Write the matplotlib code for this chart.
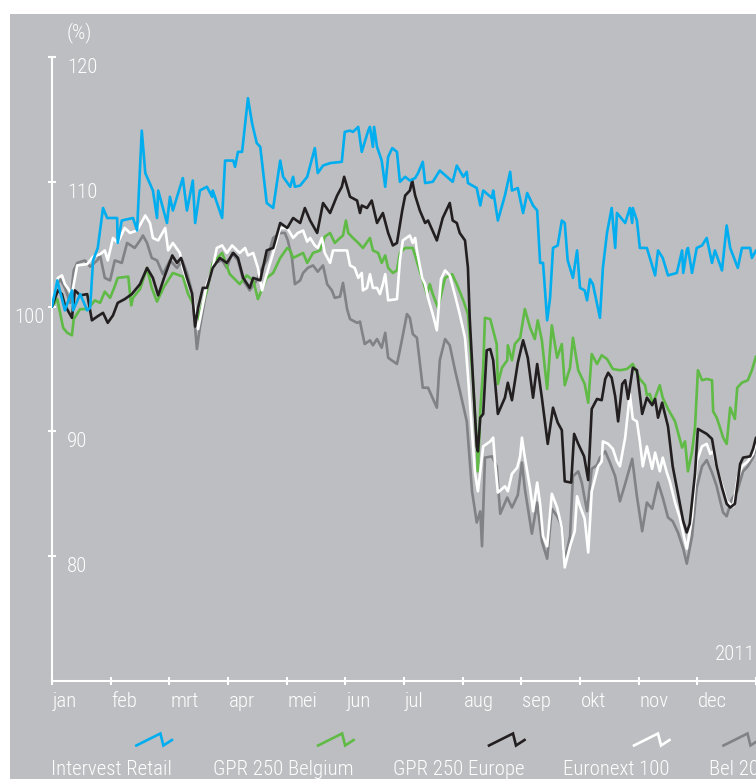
import matplotlib
matplotlib.use("Agg")
import matplotlib.pyplot as plt
from matplotlib import font_manager, transforms
from matplotlib.font_manager import FontProperties
from matplotlib.lines import Line2D
from matplotlib.patches import Rectangle

# ---------------------------------------------------------------- data
months = ["jan", "feb", "mrt", "apr", "mei", "jun", "jul", "aug", "sep", "okt", "nov", "dec"]
y_ticks = [80, 90, 100, 110, 120]
series_names = ["Intervest Retail", "GPR 250 Belgium", "GPR 250 Europe", "Euronext 100", "Bel 20"]
unit_label = "(%)"
year_label = "2011"

# (month position, index value) pairs, 1 January = 100
intervest_retail = [
    (0.00, 100.0), (0.09, 102.1), (0.22, 99.7), (0.34, 101.3), (0.36, 99.7), (0.48, 101.0), (0.60, 99.7),
    (0.65, 99.9), (0.70, 103.7), (0.78, 104.7), (0.87, 107.9), (0.94, 107.1), (1.11, 107.1), (1.12, 105.1),
    (1.19, 106.9), (1.38, 107.1), (1.45, 106.1), (1.53, 114.1), (1.59, 110.7), (1.72, 109.3), (1.79, 107.1),
    (1.81, 109.3), (1.89, 107.9), (1.96, 106.7), (2.01, 108.8), (2.06, 107.7), (2.23, 110.3), (2.30, 107.7),
    (2.40, 110.1), (2.44, 106.7), (2.52, 109.3), (2.64, 109.6), (2.73, 108.8), (2.74, 109.3), (2.90, 107.1),
    (2.95, 111.7), (3.09, 111.7), (3.12, 111.2), (3.17, 112.4), (3.24, 112.4), (3.34, 116.7), (3.41, 114.7),
    (3.49, 113.1), (3.55, 112.8), (3.66, 108.3), (3.77, 107.9), (3.89, 111.7), (3.94, 110.4), (4.06, 109.6),
    (4.11, 110.4), (4.14, 109.6), (4.23, 109.7), (4.35, 110.4), (4.48, 112.7), (4.53, 110.7), (4.62, 111.3),
    (4.74, 111.5), (4.94, 111.6), (4.99, 114.0), (5.08, 114.1), (5.13, 114.0), (5.22, 114.4), (5.28, 112.4),
    (5.39, 114.1), (5.42, 114.4), (5.47, 112.8), (5.49, 114.4), (5.54, 112.8), (5.62, 111.7), (5.68, 109.6),
    (5.73, 112.0), (5.80, 112.7), (5.88, 112.4), (5.93, 110.0), (6.02, 110.4), (6.10, 110.1), (6.19, 110.3),
    (6.24, 110.7), (6.32, 111.6), (6.36, 109.9), (6.49, 110.0), (6.61, 110.9), (6.83, 110.0), (6.90, 111.3),
    (7.01, 110.4), (7.07, 110.8), (7.09, 109.9), (7.24, 109.5), (7.30, 108.1), (7.35, 109.3), (7.50, 108.7),
    (7.52, 109.3), (7.60, 106.9), (7.72, 108.9), (7.81, 110.8), (7.84, 109.3), (7.94, 109.5), (8.03, 107.5),
    (8.10, 109.1), (8.20, 108.1), (8.27, 107.7), (8.32, 103.5), (8.37, 103.5), (8.44, 98.9), (8.49, 100.7),
    (8.54, 104.7), (8.62, 104.9), (8.69, 106.9), (8.74, 106.7), (8.79, 103.7), (8.88, 102.3), (8.95, 104.5),
    (9.00, 101.5), (9.08, 101.3), (9.12, 100.5), (9.17, 102.2), (9.22, 101.8), (9.34, 99.1), (9.39, 103.1),
    (9.46, 105.9), (9.54, 107.9), (9.60, 104.7), (9.63, 107.5), (9.77, 106.7), (9.85, 107.9), (9.89, 106.7),
    (9.90, 107.9), (9.97, 106.9), (10.02, 104.7), (10.14, 104.7), (10.28, 102.5), (10.33, 104.5), (10.41, 103.9),
    (10.50, 102.5), (10.65, 102.7), (10.74, 104.5), (10.76, 102.7), (10.82, 104.5), (10.84, 104.7), (10.91, 102.7),
    (10.99, 104.7), (11.08, 104.9), (11.16, 105.5), (11.25, 103.5), (11.30, 104.5), (11.42, 102.9), (11.50, 106.5),
    (11.56, 104.7), (11.69, 103.1), (11.76, 104.7), (11.90, 104.7), (11.93, 103.9), (12.00, 104.5),
]

gpr_belgium = [
    (0.00, 100.0), (0.09, 100.6), (0.19, 98.3), (0.26, 97.9), (0.34, 97.7), (0.37, 99.0), (0.48, 99.8),
    (0.61, 99.8), (0.73, 100.5), (0.82, 100.3), (0.90, 101.2), (0.99, 100.7), (1.06, 101.5), (1.12, 102.3),
    (1.30, 102.4), (1.35, 100.1), (1.38, 100.7), (1.50, 101.4), (1.62, 103.1), (1.70, 101.5), (1.79, 100.4),
    (1.91, 101.6), (2.06, 102.7), (2.23, 102.4), (2.32, 101.0), (2.40, 100.3), (2.47, 98.7), (2.56, 100.1),
    (2.64, 101.3), (2.74, 103.5), (2.90, 104.3), (3.03, 102.6), (3.20, 101.8), (3.32, 102.5), (3.43, 102.1),
    (3.51, 100.6), (3.66, 102.3), (3.77, 102.7), (3.89, 103.9), (4.01, 104.7), (4.06, 104.5), (4.11, 103.9),
    (4.28, 104.3), (4.35, 103.5), (4.45, 104.3), (4.57, 104.5), (4.65, 105.6), (4.74, 105.9), (4.82, 105.1),
    (4.91, 105.5), (4.96, 105.7), (5.01, 106.9), (5.05, 105.9), (5.13, 105.5), (5.22, 105.1), (5.30, 104.7),
    (5.42, 105.5), (5.47, 104.5), (5.56, 104.3), (5.62, 103.5), (5.68, 104.1), (5.73, 103.1), (5.81, 102.7),
    (5.88, 102.9), (5.93, 104.3), (6.02, 104.7), (6.15, 104.7), (6.24, 103.3), (6.32, 102.1), (6.39, 101.0),
    (6.44, 101.8), (6.49, 101.0), (6.58, 99.9), (6.70, 102.3), (6.82, 102.6), (6.90, 101.8), (7.01, 100.5),
    (7.09, 99.4), (7.18, 93.8), (7.24, 89.2), (7.26, 86.8), (7.30, 91.6), (7.35, 95.1), (7.38, 99.1),
    (7.47, 99.0), (7.52, 98.1), (7.58, 97.0), (7.60, 93.8), (7.67, 95.1), (7.76, 95.7), (7.77, 96.9),
    (7.84, 95.7), (7.89, 97.0), (7.98, 97.5), (8.06, 99.8), (8.15, 98.3), (8.23, 97.4), (8.28, 98.9),
    (8.35, 97.3), (8.44, 93.4), (8.52, 98.5), (8.61, 95.9), (8.69, 97.0), (8.74, 93.7), (8.83, 95.1),
    (8.88, 97.5), (8.97, 94.9), (9.08, 93.8), (9.14, 92.3), (9.20, 96.2), (9.29, 95.4), (9.37, 96.1),
    (9.46, 95.8), (9.56, 95.0), (9.68, 94.9), (9.80, 95.0), (9.90, 95.4), (9.97, 94.7), (10.02, 94.2),
    (10.11, 93.7), (10.14, 92.9), (10.19, 93.0), (10.24, 92.2), (10.36, 93.7), (10.41, 92.7), (10.50, 91.8),
    (10.62, 90.8), (10.74, 88.7), (10.79, 89.2), (10.84, 86.8), (10.91, 88.4), (10.96, 90.3), (11.01, 94.9),
    (11.08, 94.1), (11.16, 94.2), (11.25, 94.1), (11.27, 91.6), (11.33, 91.1), (11.38, 90.4), (11.44, 89.5),
    (11.50, 89.0), (11.56, 91.9), (11.64, 91.0), (11.68, 93.5), (11.76, 93.9), (11.86, 94.1), (11.93, 94.9),
    (12.00, 96.0),
]

gpr_europe = [
    (0.00, 100.0), (0.10, 101.3), (0.17, 101.0), (0.22, 100.1), (0.34, 99.1), (0.39, 101.3), (0.48, 100.9),
    (0.60, 101.0), (0.68, 98.9), (0.77, 99.2), (0.87, 99.5), (0.95, 98.7), (1.04, 99.3), (1.12, 100.3),
    (1.24, 100.6), (1.36, 101.0), (1.50, 101.8), (1.62, 103.1), (1.72, 102.3), (1.81, 100.9), (1.91, 102.3),
    (2.05, 104.1), (2.13, 103.5), (2.20, 103.9), (2.30, 102.3), (2.39, 101.0), (2.44, 98.4), (2.49, 99.9),
    (2.57, 101.5), (2.64, 101.5), (2.74, 103.1), (2.86, 103.9), (2.98, 103.5), (3.09, 104.3), (3.17, 103.9),
    (3.26, 102.3), (3.37, 101.5), (3.43, 102.3), (3.55, 102.1), (3.66, 104.5), (3.77, 104.7), (3.89, 106.7),
    (4.01, 106.3), (4.11, 107.1), (4.23, 106.7), (4.31, 107.9), (4.40, 106.9), (4.52, 105.9), (4.62, 108.3),
    (4.74, 107.5), (4.86, 108.9), (4.94, 109.6), (4.98, 110.4), (5.03, 109.6), (5.08, 108.8), (5.20, 108.5),
    (5.25, 107.5), (5.28, 108.1), (5.37, 107.9), (5.45, 108.5), (5.54, 106.7), (5.64, 107.5), (5.73, 105.9),
    (5.81, 104.9), (5.88, 105.1), (5.97, 107.7), (6.02, 108.9), (6.10, 109.3), (6.14, 110.1), (6.19, 108.9),
    (6.27, 107.7), (6.36, 106.7), (6.41, 106.9), (6.56, 105.3), (6.66, 107.1), (6.78, 108.3), (6.83, 106.9),
    (6.90, 106.7), (6.95, 105.9), (7.04, 105.3), (7.09, 103.1), (7.12, 99.1), (7.18, 93.8), (7.24, 88.8),
    (7.26, 88.4), (7.30, 91.1), (7.35, 91.4), (7.41, 96.5), (7.47, 96.6), (7.52, 95.7), (7.60, 91.4),
    (7.72, 92.7), (7.77, 93.9), (7.84, 92.5), (7.94, 95.5), (8.03, 97.3), (8.11, 95.9), (8.20, 92.7),
    (8.27, 95.4), (8.35, 92.7), (8.45, 89.0), (8.54, 91.9), (8.62, 90.7), (8.69, 90.1), (8.74, 86.0),
    (8.85, 85.9), (8.90, 89.8), (8.97, 89.0), (9.07, 88.0), (9.14, 86.1), (9.20, 91.8), (9.29, 92.6),
    (9.37, 92.5), (9.43, 94.2), (9.48, 94.7), (9.54, 94.3), (9.60, 92.8), (9.65, 90.8), (9.72, 93.8),
    (9.77, 94.1), (9.82, 92.6), (9.90, 95.1), (9.97, 94.9), (10.06, 91.4), (10.14, 92.7), (10.23, 92.1),
    (10.28, 92.6), (10.33, 91.1), (10.40, 92.3), (10.50, 90.4), (10.58, 87.2), (10.67, 85.0), (10.76, 82.8),
    (10.82, 81.9), (10.87, 82.6), (10.96, 86.6), (11.01, 90.2), (11.16, 89.8), (11.25, 89.4), (11.33, 87.2),
    (11.42, 85.5), (11.50, 84.2), (11.56, 83.9), (11.64, 84.2), (11.73, 87.4), (11.78, 87.9), (11.90, 88.0),
    (11.95, 88.6), (12.00, 89.5),
]

euronext_100 = [
    (0.00, 100.0), (0.10, 102.3), (0.17, 102.5), (0.22, 101.8), (0.34, 101.0), (0.43, 103.3), (0.60, 103.4),
    (0.70, 104.0), (0.82, 104.2), (0.90, 104.5), (0.95, 103.7), (1.04, 105.5), (1.12, 105.1), (1.24, 106.3),
    (1.33, 105.9), (1.45, 106.1), (1.59, 107.3), (1.67, 106.7), (1.72, 105.5), (1.81, 105.3), (1.93, 106.3),
    (1.98, 104.5), (2.06, 105.1), (2.18, 104.3), (2.23, 103.1), (2.30, 102.1), (2.39, 101.0), (2.49, 98.2),
    (2.57, 100.1), (2.64, 101.8), (2.73, 102.9), (2.81, 104.7), (2.90, 104.9), (2.98, 104.3), (3.07, 104.9),
    (3.20, 104.3), (3.29, 104.7), (3.34, 104.1), (3.43, 104.3), (3.51, 103.1), (3.58, 101.3), (3.66, 102.6),
    (3.77, 104.3), (3.89, 106.3), (4.01, 106.3), (4.11, 105.5), (4.19, 105.9), (4.28, 106.1), (4.35, 105.2),
    (4.40, 105.5), (4.48, 104.9), (4.53, 104.7), (4.60, 105.5), (4.65, 104.3), (4.74, 103.5), (4.79, 104.5),
    (5.03, 104.5), (5.08, 103.3), (5.16, 103.1), (5.22, 102.3), (5.28, 102.7), (5.30, 101.3), (5.37, 101.5),
    (5.42, 102.6), (5.47, 101.5), (5.54, 101.5), (5.59, 101.0), (5.64, 101.8), (5.68, 102.6), (5.73, 100.5),
    (5.88, 100.6), (5.93, 103.7), (5.98, 105.3), (6.10, 105.7), (6.15, 105.1), (6.19, 105.5), (6.22, 104.5),
    (6.31, 102.3), (6.36, 101.8), (6.41, 100.7), (6.49, 99.4), (6.56, 98.1), (6.63, 102.2), (6.70, 102.9),
    (6.78, 102.5), (6.87, 100.9), (6.95, 99.4), (7.04, 97.5), (7.09, 94.5), (7.16, 90.0), (7.21, 86.7),
    (7.26, 85.2), (7.30, 86.8), (7.35, 88.8), (7.47, 89.2), (7.52, 89.5), (7.55, 87.6), (7.60, 85.1),
    (7.72, 85.6), (7.77, 85.2), (7.84, 86.6), (7.93, 87.1), (7.98, 88.0), (8.01, 89.5), (8.06, 87.9),
    (8.15, 85.4), (8.20, 83.6), (8.27, 85.9), (8.32, 84.2), (8.37, 81.6), (8.44, 80.8), (8.52, 85.0),
    (8.57, 84.4), (8.61, 83.9), (8.69, 82.3), (8.74, 79.1), (8.83, 80.8), (8.91, 82.0), (8.95, 84.8),
    (9.00, 84.0), (9.08, 83.0), (9.14, 80.3), (9.20, 85.2), (9.26, 86.3), (9.31, 87.2), (9.37, 87.6),
    (9.39, 89.2), (9.48, 89.0), (9.56, 88.6), (9.63, 87.6), (9.68, 87.2), (9.77, 89.5), (9.85, 93.0),
    (9.90, 91.0), (9.97, 90.8), (10.02, 89.2), (10.07, 87.2), (10.14, 88.8), (10.23, 87.0), (10.28, 88.3),
    (10.36, 86.8), (10.41, 87.9), (10.48, 86.7), (10.53, 86.0), (10.62, 84.3), (10.70, 83.1), (10.77, 81.6),
    (10.82, 80.6), (10.91, 83.1), (10.99, 87.6), (11.08, 88.8), (11.16, 89.0), (11.22, 88.2), (11.27, 88.4),
    (11.35, 86.8), (11.44, 85.4), (11.50, 84.4), (11.61, 84.0), (11.69, 86.3), (11.76, 87.2), (11.86, 87.6),
    (11.95, 88.2), (12.00, 89.1),
]

bel_20 = [
    (0.00, 100.0), (0.09, 101.8), (0.14, 102.2), (0.22, 101.5), (0.31, 100.3), (0.37, 102.9), (0.43, 103.5),
    (0.56, 103.7), (0.65, 103.2), (0.77, 103.7), (0.82, 104.1), (0.90, 102.3), (0.99, 102.1), (1.07, 103.7),
    (1.19, 103.5), (1.28, 105.1), (1.41, 104.7), (1.50, 105.3), (1.55, 105.7), (1.62, 105.1), (1.70, 103.9),
    (1.79, 103.7), (1.89, 102.6), (2.01, 103.7), (2.13, 103.1), (2.22, 103.7), (2.30, 102.7), (2.39, 101.1),
    (2.47, 96.6), (2.52, 98.3), (2.61, 100.7), (2.69, 102.3), (2.76, 103.5), (2.90, 103.7), (2.98, 103.1),
    (3.07, 104.3), (3.17, 103.7), (3.26, 102.1), (3.37, 101.3), (3.49, 102.1), (3.58, 103.1), (3.66, 103.7),
    (3.77, 105.5), (3.89, 105.9), (3.97, 105.9), (4.02, 105.3), (4.09, 103.9), (4.14, 101.8), (4.23, 102.1),
    (4.28, 102.7), (4.36, 103.1), (4.45, 103.3), (4.53, 102.8), (4.62, 103.3), (4.69, 101.8), (4.77, 101.3),
    (4.82, 100.7), (4.91, 100.8), (4.96, 101.9), (5.03, 99.8), (5.08, 99.0), (5.20, 98.7), (5.25, 98.8),
    (5.28, 98.1), (5.33, 97.0), (5.42, 97.3), (5.47, 96.9), (5.54, 97.4), (5.62, 96.7), (5.68, 97.9),
    (5.73, 95.9), (5.88, 95.4), (5.93, 96.5), (6.05, 99.4), (6.10, 99.1), (6.15, 97.8), (6.22, 97.5),
    (6.32, 93.5), (6.41, 93.5), (6.56, 91.9), (6.61, 95.7), (6.70, 97.4), (6.78, 96.9), (6.87, 94.9),
    (6.95, 93.3), (7.07, 90.8), (7.16, 85.2), (7.24, 82.7), (7.30, 83.6), (7.33, 80.8), (7.38, 87.9),
    (7.50, 88.0), (7.58, 87.2), (7.64, 83.4), (7.76, 84.7), (7.84, 83.9), (7.94, 84.9), (8.01, 87.5),
    (8.06, 85.4), (8.18, 81.8), (8.27, 84.3), (8.35, 81.2), (8.44, 79.8), (8.52, 83.8), (8.61, 83.2),
    (8.69, 82.4), (8.74, 79.6), (8.83, 81.6), (8.88, 86.4), (8.97, 86.8), (9.03, 85.9), (9.12, 83.6),
    (9.20, 87.0), (9.29, 87.3), (9.34, 87.9), (9.43, 88.4), (9.51, 87.5), (9.60, 86.4), (9.68, 84.4),
    (9.77, 85.8), (9.89, 87.8), (9.97, 84.8), (10.06, 82.0), (10.14, 84.3), (10.23, 83.8), (10.33, 85.9),
    (10.41, 84.7), (10.50, 83.1), (10.58, 82.8), (10.67, 81.9), (10.76, 80.6), (10.82, 79.4), (10.91, 81.6),
    (10.99, 85.5), (11.08, 87.2), (11.16, 87.7), (11.25, 86.7), (11.33, 85.6), (11.39, 84.4), (11.44, 83.5),
    (11.50, 83.2), (11.59, 84.6), (11.68, 85.2), (11.78, 86.8), (11.86, 87.2), (11.95, 87.9), (12.00, 88.7),
]

# ---------------------------------------------------------------- style
BG = "#bdbec1"
COLORS = {
    "Intervest Retail": "#00aeef",
    "GPR 250 Belgium": "#5fba46",
    "GPR 250 Europe": "#231f20",
    "Euronext 100": "#ffffff",
    "Bel 20": "#808285",
}
LW = 1.9
FS = 15


def pick_font():
    """Prefer a light condensed sans face; fall back to DejaVu Sans."""
    entries = font_manager.fontManager.ttflist

    def stretch_val(e):
        s = e.stretch
        if isinstance(s, str):
            return font_manager.stretch_dict.get(s, 500)
        return s

    def weight_val(e):
        w = e.weight
        if isinstance(w, str):
            return font_manager.weight_dict.get(w, 400)
        return w

    def good(cands):
        cands = [e for e in cands if e.style == "normal"]
        if not cands:
            return None
        cands.sort(key=lambda e: abs(weight_val(e) - 320))
        return cands[0]

    for fam in ["Roboto Condensed", "Open Sans Condensed", "Noto Sans Condensed",
                "Liberation Sans Narrow", "Arial Narrow"]:
        e = good([f for f in entries if f.name == fam])
        if e is not None:
            return FontProperties(fname=e.fname)
    e = good([f for f in entries if stretch_val(f) <= 400 and
              f.name in ("Roboto", "Open Sans", "Noto Sans", "DejaVu Sans", "Lato", "Inter")])
    if e is not None:
        return FontProperties(fname=e.fname)
    e = good([f for f in entries if "Condensed" in f.name or "Narrow" in f.name])
    if e is not None:
        return FontProperties(fname=e.fname)
    return FontProperties(family="DejaVu Sans")


FONT = pick_font()
FONT.set_size(FS)

W, H = 756, 779
fig = plt.figure(figsize=(W / 100, H / 100), dpi=100, facecolor="white")
fig.patches.append(Rectangle((10 / W, 0), 1 - 10 / W, (H - 14) / H,
                             transform=fig.transFigure, facecolor=BG,
                             edgecolor="none", zorder=-10))

ax = fig.add_axes([52 / W, (H - 681) / H, (W - 52) / W, (681 - 57) / H])
ax.set_facecolor("none")
ax.set_zorder(1)
ax.set_xlim(0, 12)
ax.set_ylim(70, 120)

for side in ("top", "right"):
    ax.spines[side].set_visible(False)
for side in ("left", "bottom"):
    ax.spines[side].set_color("white")
    ax.spines[side].set_linewidth(1.5)

ax.set_yticks(y_ticks)
ax.set_xticks(range(13))
ax.tick_params(axis="y", direction="inout", length=6, width=1.5, color="white", labelleft=False)
ax.tick_params(axis="x", direction="inout", length=5.5, width=1.5, color="white", labelbottom=False)

# ---------------------------------------------------------------- lines
series = {
    "Bel 20": bel_20,
    "GPR 250 Belgium": gpr_belgium,
    "Euronext 100": euronext_100,
    "GPR 250 Europe": gpr_europe,
    "Intervest Retail": intervest_retail,
}
for z, (name, pts) in enumerate(series.items()):
    xs = [p[0] for p in pts]
    ys = [p[1] for p in pts]
    ax.plot(xs, ys, color=COLORS[name], lw=LW, solid_joinstyle="round",
            solid_capstyle="round", zorder=3 + z)

# ---------------------------------------------------------------- labels
ytrans = ax.get_yaxis_transform()
for v in y_ticks:
    if v == 100:
        tr = transforms.offset_copy(ytrans, fig=fig, x=-7, y=-1, units="dots")
        ax.text(0, v, str(v), transform=tr, ha="right", va="top",
                color="white", fontproperties=FONT)
    else:
        tr = transforms.offset_copy(ytrans, fig=fig, x=15, y=-1, units="dots")
        ax.text(0, v, str(v), transform=tr, ha="left", va="top",
                color="white", fontproperties=FONT)

xtrans = ax.get_xaxis_transform()
for i, m in enumerate(months):
    tr = transforms.offset_copy(xtrans, fig=fig, x=1, y=-11, units="dots")
    ax.text(i, 0, m, transform=tr, ha="left", va="top",
            color="white", fontproperties=FONT)

fig.text(67 / W, (H - 33) / H, unit_label, ha="left", va="center",
         color="white", fontproperties=FONT)
fig.text(755 / W, (H - 660) / H, year_label, ha="right", va="baseline",
         color="white", fontproperties=FONT)

# legend: name with a small zig-zag swatch above its right end
legend_left = [51, 213, 393, 563, 709]
fig.canvas.draw()
renderer = fig.canvas.get_renderer()
for name, xl in zip(series_names, legend_left):
    t = fig.text(xl / W, (H - 775) / H, name, ha="left", va="baseline",
                 color="white", fontproperties=FONT)
    bb = t.get_window_extent(renderer=renderer)
    xr = bb.x1
    zx = [xr - 35.5, xr - 11.5, xr - 8.5, xr]
    zy = [745.5, 733.5, 745.5, 740.0]
    fig.add_artist(Line2D([x / W for x in zx], [(H - y) / H for y in zy],
                          transform=fig.transFigure, color=COLORS[name],
                          lw=LW, solid_joinstyle="miter"))

fig.savefig("out.png", dpi=100, facecolor="white")
